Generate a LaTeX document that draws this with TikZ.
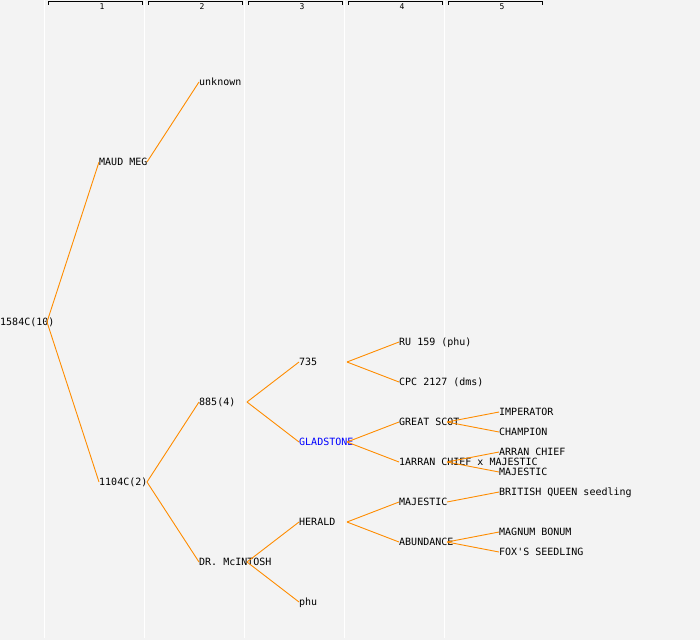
\documentclass[tikz,border=0pt]{standalone}
\usepackage{fontspec}
\newfontfamily\pedfont{DejaVu Sans Mono}
\usepackage{xcolor}
\definecolor{bggray}{HTML}{F3F3F3}
\definecolor{edgeorange}{HTML}{FF8C00}
\tikzset{
  lbl/.style={anchor=west,inner sep=0pt,text height=7.3pt,text depth=0pt,font=\pedfont\fontsize{10}{10}\selectfont},
  edge/.style={draw=edgeorange,line width=0.9pt},
  colnum/.style={inner sep=0pt,font=\pedfont\fontsize{8}{8}\selectfont}
}

\begin{document}
\begin{tikzpicture}[line cap=butt,line join=miter,x=1pt,y=-1pt]
                \fill [bggray] (0,0) rectangle (700,640);
                \useasboundingbox (0,0) rectangle (700,640);
                \foreach \c in {44.5,144.5,244.5,344.5,444.5}
                    \draw [white,line width=1.2pt] (\c,0) -- (\c,638);
                \foreach \k in {1,...,5}{
                    \draw [line width=0.9pt] (\k*100-52,4.5) -- (\k*100-52,1.5) -- (\k*100+42,1.5) -- (\k*100+42,4.5);
                    \node [colnum] (col\k) at (\k*100+2,6.8) {\k};
                }
                \node [lbl] (root) at (0,322) {1584C(10)};
                \node [lbl] (maud) at (99,162) {MAUD MEG};
                \node [lbl] (unk) at (199,82) {unknown};
                \node [lbl] (c1104) at (99,482) {1104C(2)};
                \node [lbl] (c885) at (199,402) {885(4)};
                \node [lbl] (n735) at (299,362) {735};
                \node [lbl] (ru) at (399,342) {RU 159 (phu)};
                \node [lbl] (cpc) at (399,382) {CPC 2127 (dms)};
                \node [lbl,text=blue] (glad) at (299,442) {GLADSTONE};
                \node [lbl] (scot) at (399,422) {GREAT SCOT};
                \node [lbl] (imp) at (499,412) {IMPERATOR};
                \node [lbl] (champ) at (499,432) {CHAMPION};
                \node [lbl] (arrmaj) at (399,462) {1ARRAN CHIEF x MAJESTIC};
                \node [lbl] (arran) at (499,452) {ARRAN CHIEF};
                \node [lbl] (majA) at (499,472) {MAJESTIC};
                \node [lbl] (mcint) at (199,562) {DR. McINTOSH};
                \node [lbl] (herald) at (299,522) {HERALD};
                \node [lbl] (majB) at (399,502) {MAJESTIC};
                \node [lbl] (bq) at (499,492) {BRITISH QUEEN seedling};
                \node [lbl] (abund) at (399,542) {ABUNDANCE};
                \node [lbl] (magnum) at (499,532) {MAGNUM BONUM};
                \node [lbl] (fox) at (499,552) {FOX'S SEEDLING};
                \node [lbl] (phu) at (299,602) {phu};
                \draw [edge] ([xshift=47pt]root.west) -- (maud.west);
                \draw [edge] ([xshift=47pt]root.west) -- (c1104.west);
                \foreach \a/\b in {maud/unk,c1104/c885,c1104/mcint,c885/n735,c885/glad,n735/ru,n735/cpc,glad/scot,glad/arrmaj,scot/imp,scot/champ,arrmaj/arran,arrmaj/majA,mcint/herald,mcint/phu,herald/majB,herald/abund,majB/bq,abund/magnum,abund/fox}
                    \draw [edge] ([xshift=48pt]\a.west) -- (\b.west);
\end{tikzpicture}
\end{document}
